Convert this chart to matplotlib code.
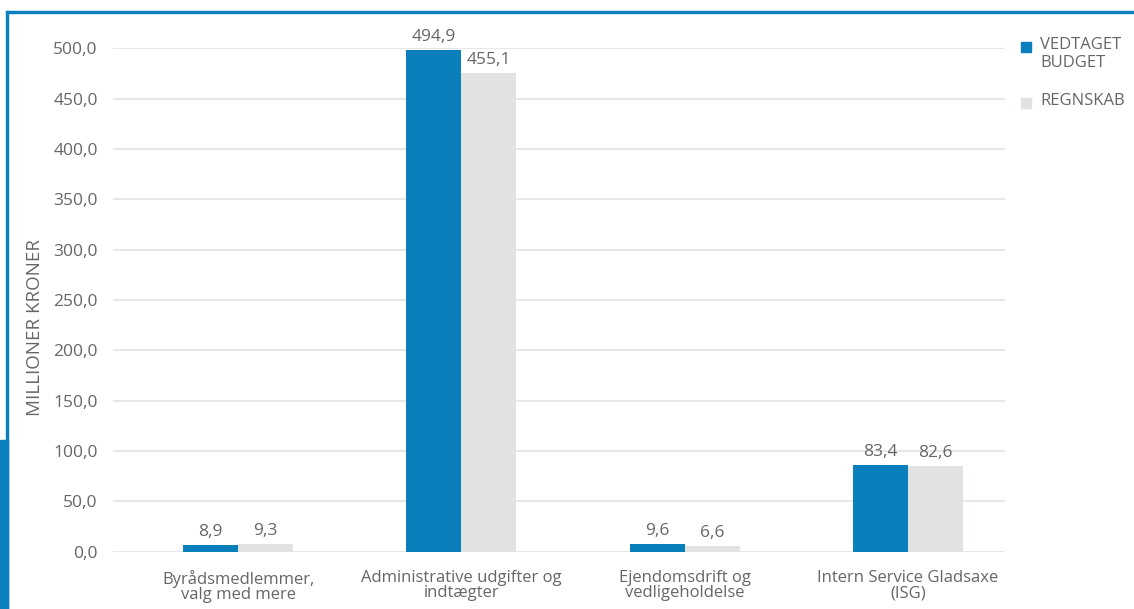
import matplotlib
matplotlib.use("Agg")
import matplotlib.pyplot as plt
from matplotlib.patches import Rectangle
import numpy as np

categories = ["Byrådsmedlemmer,\nvalg med mere",
              "Administrative udgifter og\nindtægter",
              "Ejendomsdrift og\nvedligeholdelse",
              "Intern Service Gladsaxe\n(ISG)"]
budget_labels = ["8,9", "494,9", "9,6", "83,4"]
regnskab_labels = ["9,3", "455,1", "6,6", "82,6"]
# bar heights as drawn in the picture
budget_heights = [6.5, 498, 7.5, 86]
regnskab_heights = [7.5, 475, 5.5, 85]
yticks = [0, 50, 100, 150, 200, 250, 300, 350, 400, 450, 500]
series_names = ["VEDTAGET\nBUDGET", "REGNSKAB"]

BLUE = "#0a7fbc"
GRAY = "#e1e2e2"
TXT = "#666666"
FRAME = "#0a80c0"
FONT = "Open Sans"

W, H = 1134, 609
fig = plt.figure(figsize=(W / 100, H / 100), dpi=100)

left, right, top, bottom = 113, 1005, 48.3, 551.7
ax = fig.add_axes([left / W, 1 - bottom / H, (right - left) / W, (bottom - top) / H])

x = np.arange(len(categories))
bw = 0.246
ax.bar(x - bw / 2, budget_heights, width=bw, color=BLUE, zorder=3)
ax.bar(x + bw / 2, regnskab_heights, width=bw, color=GRAY, zorder=3)

for xi, h, lab in zip(x, budget_heights, budget_labels):
    ax.annotate(lab, (xi - bw / 2, h), xytext=(0, 4), textcoords="offset points",
                ha="center", va="bottom", fontsize=12.5, color=TXT, family=FONT,
                annotation_clip=False)
for xi, h, lab in zip(x, regnskab_heights, regnskab_labels):
    ax.annotate(lab, (xi + bw / 2, h), xytext=(0, 4), textcoords="offset points",
                ha="center", va="bottom", fontsize=12.5, color=TXT, family=FONT,
                annotation_clip=False)

ax.set_xlim(-0.56, 3.435)
ax.set_ylim(0, 500)
ax.set_yticks(yticks)
ax.set_yticklabels([f"{v:.1f}".replace(".", ",") for v in yticks],
                   fontsize=12.5, color=TXT, family=FONT)
ax.set_xticks(x)
ax.set_xticklabels(categories, fontsize=12, color=TXT, family=FONT, linespacing=0.95)
ax.tick_params(axis="both", length=0)
ax.tick_params(axis="y", pad=11)
ax.tick_params(axis="x", pad=13)
for s in ax.spines.values():
    s.set_visible(False)
ax.grid(axis="y", color="#e3e3e3", linewidth=1.2, zorder=0)
ax.set_axisbelow(True)

fig.text(35 / W, 1 - 327 / H, "MILLIONER KRONER", rotation=90, ha="center", va="center",
         fontsize=13.5, color=TXT, family=FONT)

# legend
fig.patches.append(Rectangle((1021 / W, 1 - 52 / H), 10 / W, 10 / H,
                             transform=fig.transFigure, color=BLUE))
fig.text(1040 / W, 1 - 37 / H, series_names[0], ha="left", va="top", fontsize=12,
         color=TXT, family=FONT, linespacing=1.15)
fig.patches.append(Rectangle((1021 / W, 1 - 108 / H), 10 / W, 10 / H,
                             transform=fig.transFigure, color=GRAY))
fig.text(1040 / W, 1 - 93 / H, series_names[1], ha="left", va="top", fontsize=12,
         color=TXT, family=FONT)

# frame
fig.patches.append(Rectangle((6 / W, 1 - 13 / H), (W - 6) / W, 2 / H,
                             transform=fig.transFigure, color=FRAME))
fig.patches.append(Rectangle((6 / W, 0), 2 / W, 1 - 11 / H,
                             transform=fig.transFigure, color=FRAME))
fig.patches.append(Rectangle((0, 0), 8 / W, 1 - 440 / H,
                             transform=fig.transFigure, color=FRAME))

fig.savefig("out.png", dpi=100)
